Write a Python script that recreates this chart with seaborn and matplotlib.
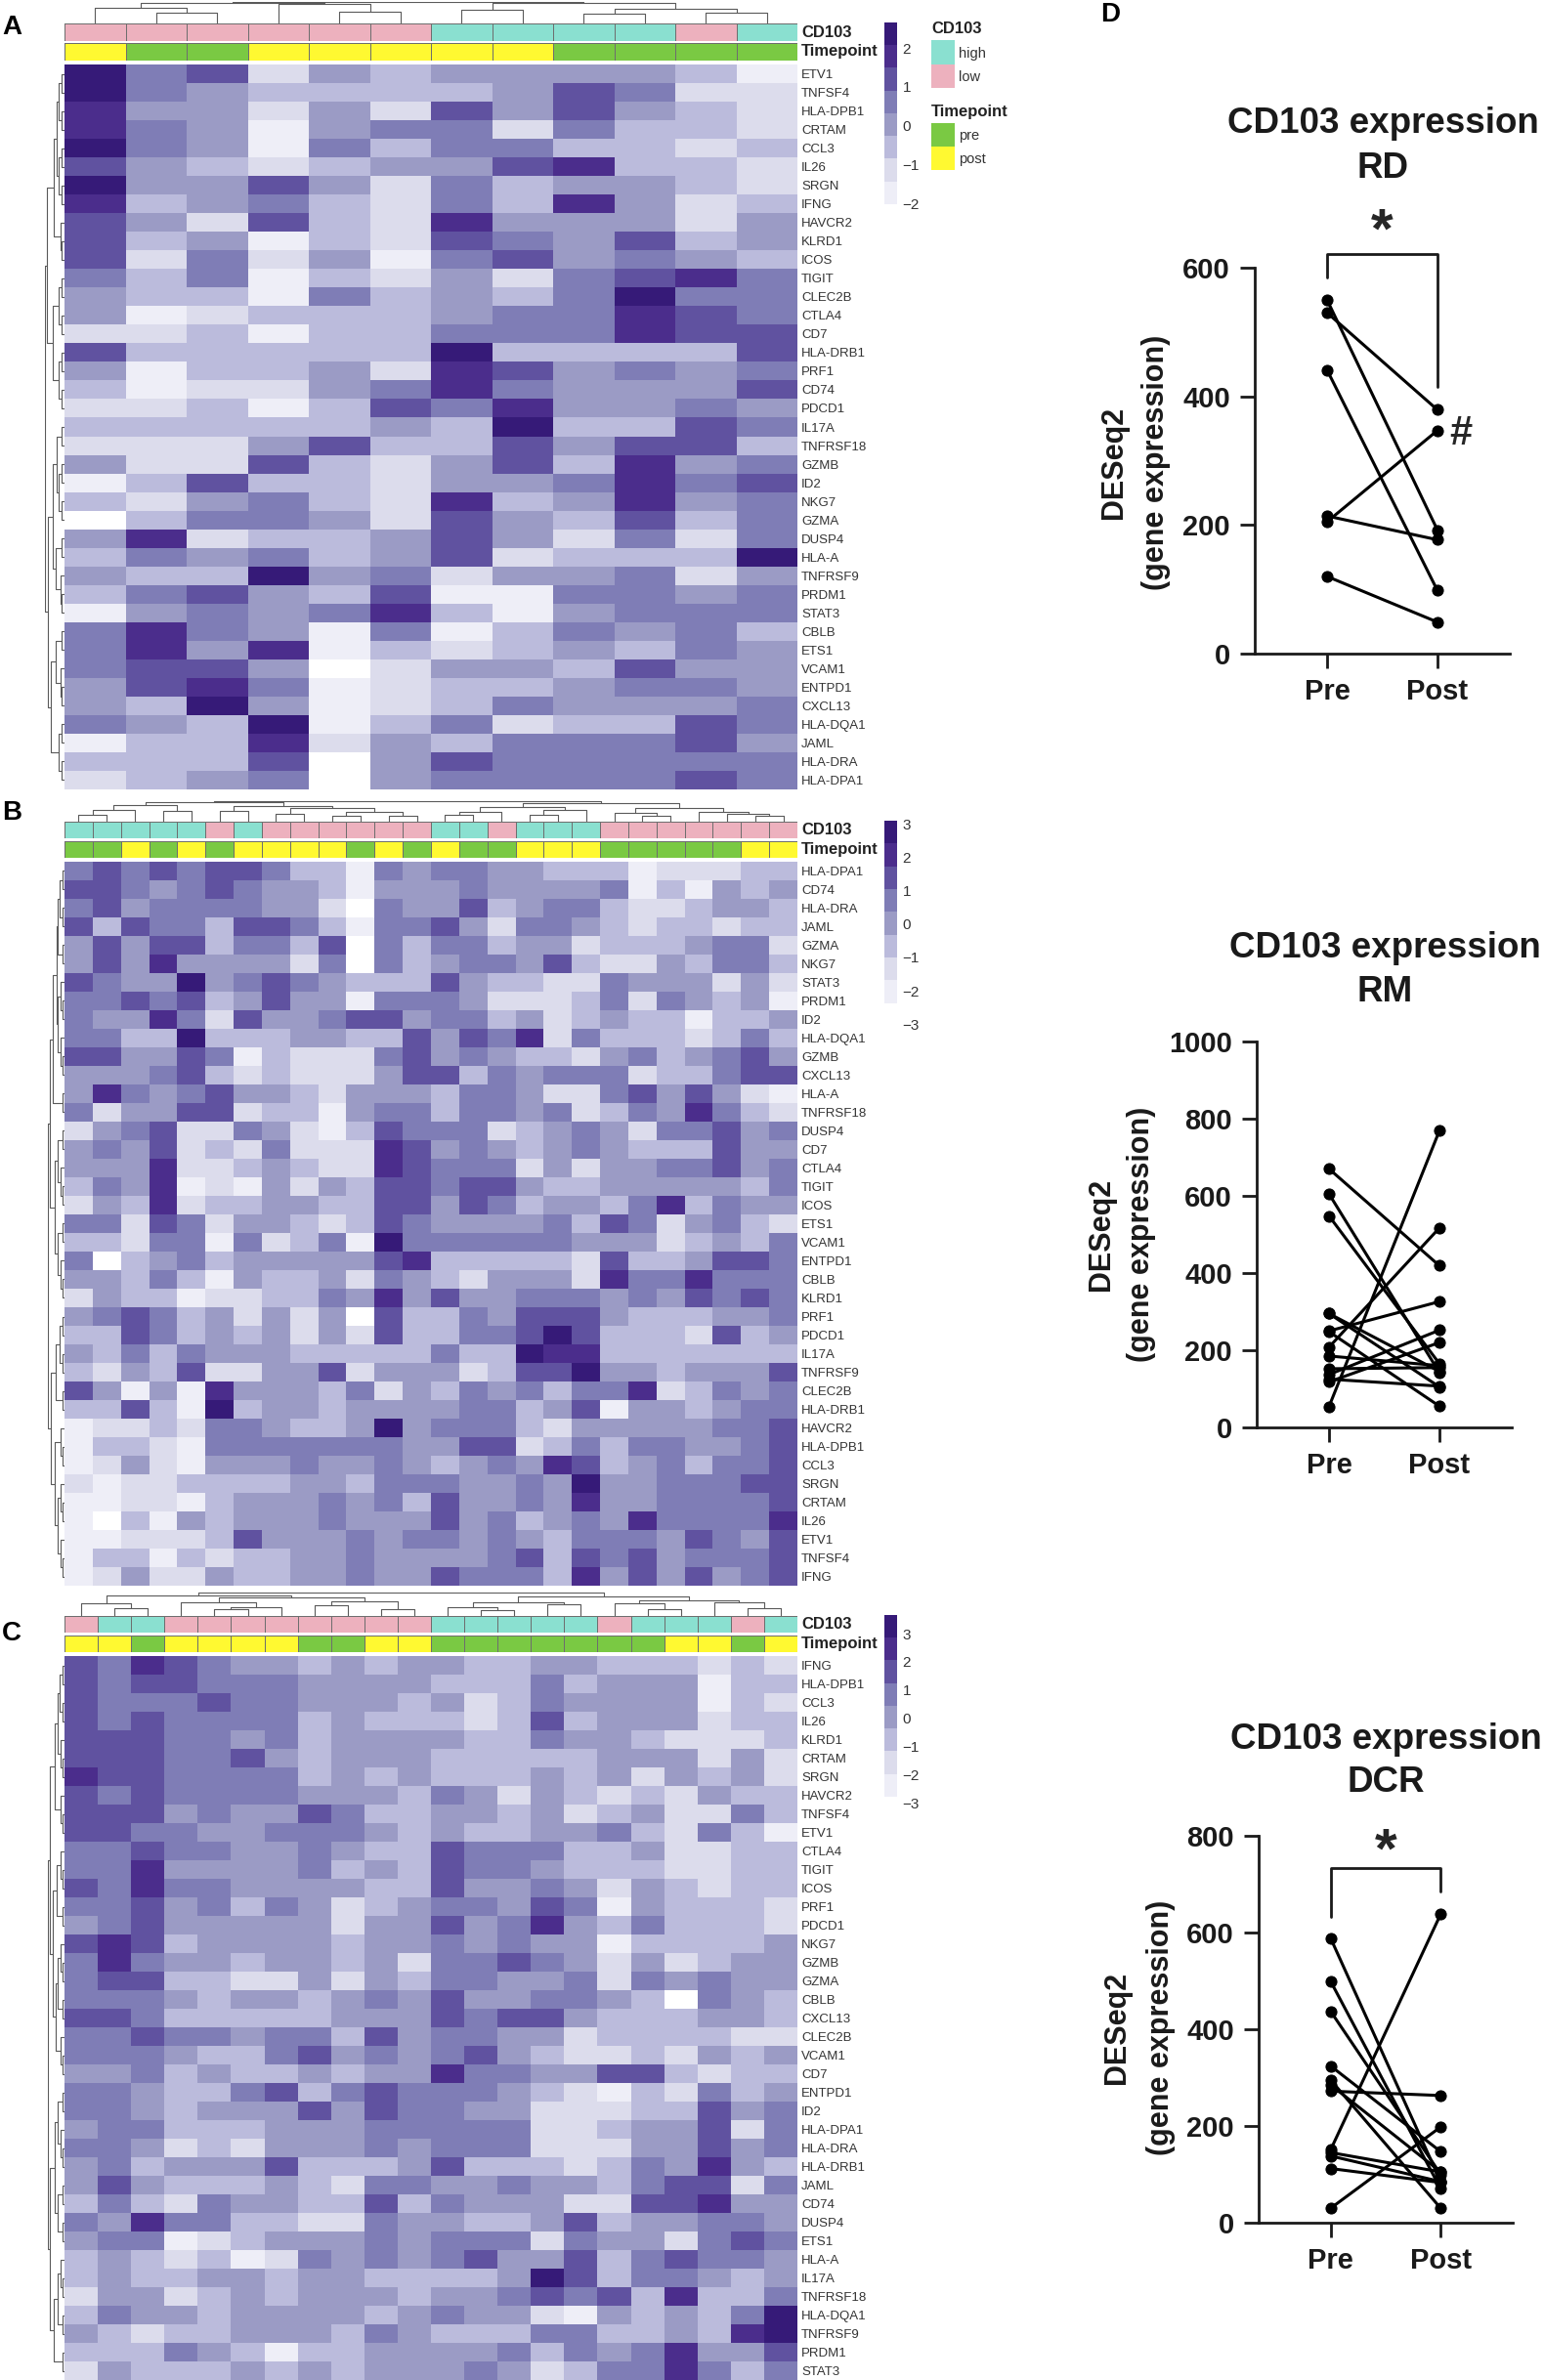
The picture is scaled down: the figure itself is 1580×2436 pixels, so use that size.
#!/usr/bin/env python3
import numpy as np
import pandas as pd
import matplotlib
matplotlib.use("Agg")
import matplotlib.pyplot as plt
from matplotlib.colors import ListedColormap
import seaborn as sns

sns.set_theme(style="white")
plt.rcParams['font.family'] = ['Liberation Sans', 'DejaVu Sans']

W, H = 1580, 2436

# heat colours, one digit in the rows below = one colour step
heat_colors = ['#FFFFFF', '#EEEEF7', '#DCDCEC', '#BBBBDC', '#9B9BC5',
               '#7F7DB6', '#6052A0', '#4B2D8C', '#361A78']
cd103_colors = ['#8AE0D0', '#EDB1BE']
time_colors = ['#7AC943', '#FFF931']

# Panel A
genes_a = ['ETV1', 'TNFSF4', 'HLA-DPB1', 'CRTAM', 'CCL3', 'IL26', 'SRGN', 'IFNG', 'HAVCR2', 'KLRD1',
           'ICOS', 'TIGIT', 'CLEC2B', 'CTLA4', 'CD7', 'HLA-DRB1', 'PRF1', 'CD74', 'PDCD1', 'IL17A',
           'TNFRSF18', 'GZMB', 'ID2', 'NKG7', 'GZMA', 'DUSP4', 'HLA-A', 'TNFRSF9', 'PRDM1', 'STAT3',
           'CBLB', 'ETS1', 'VCAM1', 'ENTPD1', 'CXCL13', 'HLA-DQA1', 'JAML', 'HLA-DRA', 'HLA-DPA1']
rows_a = ["856243444431", "854333346522", "744242646432", "754145525332", "854153553323",
          "643234467332", "844642534432", "734532537423", "642632744424", "634132654634",
          "625241564543", "535132425675", "433153435855", "412333455765", "223133555766",
          "633333833336", "413342764545", "312245754446", "223136574454", "333334383365",
          "222463364663", "422632463745", "136332445756", "324532734745", "035542643635",
          "472334642525", "354534623338", "433845244524", "356436115545", "145457314555",
          "575415135453", "574713234354", "566402443644", "467512334554", "438412354445",
          "543813523365", "133724355564", "333604655555", "234504555565"]
cd103_a = "LLLLLLHHHHLH"
time_a = "YGGYYYYYGGGG"

# Panel B
genes_b = ['HLA-DPA1', 'CD74', 'HLA-DRA', 'JAML', 'GZMA', 'NKG7', 'STAT3', 'PRDM1', 'ID2', 'HLA-DQA1',
           'GZMB', 'CXCL13', 'HLA-A', 'TNFRSF18', 'DUSP4', 'CD7', 'CTLA4', 'TIGIT', 'ICOS', 'ETS1',
           'VCAM1', 'ENTPD1', 'CBLB', 'KLRD1', 'PRF1', 'PDCD1', 'IL17A', 'TNFRSF9', 'CLEC2B', 'HLA-DRB1',
           'HAVCR2', 'HLA-DPB1', 'CCL3', 'SRGN', 'CRTAM', 'IL26', 'ETV1', 'TNFSF4', 'IFNG']
rows_b = ["56565665331545544333122233", "66545654431444544445131434", "56455554420544634553223443",
          "63655366531556425543233233", "46466355360535534423334552", "46474444250534554632243553",
          "65448456543336433225444242", "55656346441555422235254341", "54475264456645534234331334",
          "55338333443364657253332353", "66446513222564543324534564", "44456323222466354555233566",
          "47545644324443554225646421", "52446623314553554523547532", "24562254213655523454255645",
          "45462325222764543454333644", "44472234322765552424455645", "35471214243665664334444435",
          "24372334433664653443573544", "55265244323654444536524532", "33255152351855555544423435",
          "50345344444673333326334665", "44353143342543244427557555", "24331223354746445554546565",
          "45653424240633546664333445", "33653434242633556863332634", "43535444333335338773333333",
          "32436224462444236684434446", "64141744435243545355723545", "33631834434444553461443455",
          "12232554334845553244444556", "13321555555544662353554456", "12421444544543454763453556",
          "21223333443555445484455566", "11221344454536445474455556", "10314344454446453454755557",
          "11222364445455454355546546", "13313233445444456365645556", "12422433445446555374646456"]
cd103_b = "HHHHHLHLLLLLLHHLHHHLLLLLLL"
time_b = "GGYGYGYYYYGYGYGGYYYGGGGGYY"

# Panel C
genes_c = ['IFNG', 'HLA-DPB1', 'CCL3', 'IL26', 'KLRD1', 'CRTAM', 'SRGN', 'HAVCR2', 'TNFSF4', 'ETV1',
           'CTLA4', 'TIGIT', 'ICOS', 'PRF1', 'PDCD1', 'NKG7', 'GZMB', 'GZMA', 'CBLB', 'CXCL13',
           'CLEC2B', 'VCAM1', 'CD7', 'ENTPD1', 'ID2', 'HLA-DPA1', 'HLA-DRA', 'HLA-DRB1', 'JAML', 'CD74',
           'DUSP4', 'ETS1', 'HLA-A', 'IL17A', 'TNFRSF18', 'HLA-DQA1', 'TNFRSF9', 'PRDM1', 'STAT3']
rows_c = ["6576544343443344333232", "6566555444433353444133", "6555655444342354444132",
          "6565555343332363444233", "6665545344443354432223", "6665564344433333444242",
          "7665555343433343424342", "6565555444354243232433", "6664544653344342342253",
          "6655445554343344532531", "5565544543365553342233", "5574444534365543332233",
          "6575544443364454243233", "5564535423455465143332", "4564444424464574353332",
          "6763444434454544133334", "5754434434255654242344", "5663322424355445254544",
          "5554344345464455430543", "6653333344465664333443", "5565545536455442333322",
          "5554335645456432232434", "4453433434475544663233", "5543356356555432132534",
          "5543444646554422233645", "4553334445555522344625", "5542324445455522244645",
          "4534446333463332354743", "4643334325544544356625", "3532544336354442266744",
          "5475533225443346344554", "4551234445455525442565", "3432312545456446356554",
          "3433443443333486355434", "2442343444344565637335", "3544344443454421434358",
          "4323344435433355334378", "3335431334444535457446", "2433343434445423557535"]
cd103_c = "LHHLLLLLLLLHHHHHLHHHLH"
time_c = "YYGYYYYGGYYGGGGGGGYYGY"

# colour bar ranges and ticks
range_a, ticks_a = (-2.6, 2.66), [-2, -1, 0, 1, 2]
range_b, ticks_b = (-3.05, 3.09), [-3, -2, -1, 0, 1, 2, 3]
range_c, ticks_c = (-3.58, 3.66), [-3, -2, -1, 0, 1, 2, 3]

# dendrograms as nested (height, left, right), 0 is a leaf
col_tree_a = (1.0, (.98, (.76, 0, (.5, 0, 0)), (.91, 0, (.56, 0, 0))),
              (.97, (.64, 0, 0), (.7, (.48, 0, 0), (.5, 0, 0))))
col_tree_b = (1.0, (.95, (.85, (.6, (.35, 0, 0), 0), (.55, 0, 0)),
                    (.8, (.55, 0, 0), (.7, (.4, 0, 0), (.5, (.3, 0, 0), (.3, 0, 0))))),
              (.9, (.75, (.5, (.35, 0, 0), 0), (.6, (.35, 0, 0), 0)),
               (.7, (.45, 0, (.3, 0, 0)), (.5, 0, (.4, 0, (.3, 0, 0))))))
col_tree_c = (1.0, (.9, (.55, 0, (.35, 0, 0)),
                    (.8, (.6, 0, (.4, (.3, 0, 0), 0)), (.65, (.45, 0, 0), (.3, 0, 0)))),
              (.85, (.6, (.4, 0, (.25, 0, 0)), (.5, 0, 0)), (.7, (.55, 0, (.3, 0, 0)), (.6, 0, (.35, 0, 0)))))

t2 = (.14, 0, 0)
t3 = (.22, 0, t2)
t4 = (.3, t2, t2)
row_tree_a = (1.0, (.9, (.55, (.42, t4, t4), t3), (.6, t4, t4)),
              (.85, (.62, (.4, t2, t4), (.45, t2, t3)), (.7, (.45, t2, t3), t4)))
row_tree_b = (1.0, (.92, (.7, (.5, (.4, t4, t2), (.4, t3, t3)), t2),
                    (.6, (.42, t2, t3), (.45, t2, t3))),
              (.85, (.55, t4, t2), (.6, t3, (.45, t3, t3))))
row_tree_c = (1.0, (.92, (.62, (.45, t4, t3), t3), (.7, (.5, t3, t2), (.55, (.4, t3, t2), t3))),
              (.88, (.6, (.4, t2, t3), (.45, t2, t2)), (.66, (.45, t3, t2), t2)))

# Panel D
pair_x = ['Pre', 'Post']
rd_pre = [530, 550, 441, 205, 214, 120]
rd_post = [379, 192, 98, 347, 177, 49]
rm_pre = [670, 605, 548, 295, 295, 250, 248, 208, 185, 152, 137, 125, 118, 54]
rm_post = [419, 142, 165, 145, 105, 326, 55, 517, 160, 155, 252, 107, 220, 769]
dcr_pre = [588, 499, 437, 324, 295, 285, 272, 151, 145, 138, 112, 30]
dcr_post = [85, 70, 100, 147, 30, 105, 263, 638, 105, 85, 83, 198]


fig = plt.figure(figsize=(W / 100, H / 100), dpi=100)


def px_axes(x0, y0, x1, y1):
    return fig.add_axes([x0 / W, 1 - y1 / H, (x1 - x0) / W, (y1 - y0) / H])


def px_text(x, y, s, **kw):
    kw.setdefault('va', 'center')
    fig.text(x / W, 1 - y / H, s, **kw)


def draw_tree(ax, node, pos, vertical):
    # returns position and height of the node, pos is the next free leaf
    if node == 0:
        pos[0] += 1
        return pos[0] - .5, 0
    h, left, right = node
    p1, h1 = draw_tree(ax, left, pos, vertical)
    p2, h2 = draw_tree(ax, right, pos, vertical)
    xs, ys = [p1, p1, p2, p2], [h1, h, h, h2]
    if vertical:
        ax.plot(xs, ys, color='#5a5a5a', lw=.8)
    else:
        ax.plot(ys, xs, color='#5a5a5a', lw=.8)
    return (p1 + p2) / 2, h


def heat_panel(box, genes, rows, cd103, time, vrange, ticks, cbar_box, col_tree, row_tree, col_box, row_x, ann):
    x0, y0, x1, y1 = box
    levels = np.array([[int(c) for c in r] for r in rows])
    vmin, vmax = vrange
    step = (vmax - vmin) / len(heat_colors)
    df = pd.DataFrame(vmin + (levels + .5) * step, index=genes)

    ax = px_axes(x0, y0, x1, y1)
    cax = px_axes(*cbar_box)
    sns.heatmap(df, ax=ax, cmap=ListedColormap(heat_colors), vmin=vmin, vmax=vmax, cbar_ax=cax,
                xticklabels=False, yticklabels=True, cbar_kws={'ticks': ticks})
    ax.tick_params(left=False, right=False, labelleft=False, labelright=True, labelsize=9.5, pad=3, length=0,
                   labelrotation=0, labelcolor='#333333')
    ax.set_ylabel('')
    cax.tick_params(length=0, labelsize=11, pad=4, labelcolor='#333333')
    ax.collections[0].colorbar.outline.set_visible(False)

    # annotation strips
    for (ya, yb), text, codes, cols, keys in [
            (ann[0], 'CD103', cd103, cd103_colors, 'HL'),
            (ann[1], 'Timepoint', time, time_colors, 'GY')]:
        strip = px_axes(x0, ya, x1, yb)
        vals = np.array([[keys.index(c) for c in codes]])
        sns.heatmap(vals, ax=strip, cmap=ListedColormap(cols), vmin=0, vmax=1, cbar=False,
                    xticklabels=False, yticklabels=False, linewidths=.7, linecolor='#6e6e6e')
        px_text(x1 + 4, (ya + yb) / 2, text, fontsize=12, fontweight='bold', color='#222222')

    # dendrograms
    top = px_axes(*col_box)
    draw_tree(top, col_tree, [0], True)
    top.set_xlim(0, levels.shape[1])
    top.set_ylim(0, 1.02)
    top.axis('off')
    side = px_axes(row_x, y0, x0, y1)
    draw_tree(side, row_tree, [0], False)
    side.set_ylim(levels.shape[0], 0)
    side.set_xlim(1.02, 0)
    side.axis('off')


heat_panel((66, 66, 816, 808), genes_a, rows_a, cd103_a, time_a, range_a, ticks_a, (905, 23, 918, 232),
           col_tree_a, row_tree_a, (66, 2, 816, 24), 46, ((24, 42), (44, 62)))
heat_panel((66, 882, 816, 1623), genes_b, rows_b, cd103_b, time_b, range_b, ticks_b, (905, 840, 918, 1050),
           col_tree_b, row_tree_b, (66, 820, 816, 841), 49, ((841, 858), (861, 878)))
heat_panel((66, 1695, 816, 2436), genes_c, rows_c, cd103_c, time_c, range_c, ticks_c, (905, 1653, 918, 1862),
           col_tree_c, row_tree_c, (66, 1630, 816, 1654), 49, ((1654, 1671), (1674, 1691)))

# legend of panel A
for (ya, yb), title, names, cols in [((41, 90), 'CD103', ['high', 'low'], cd103_colors),
                                     ((126, 174), 'Timepoint', ['pre', 'post'], time_colors)]:
    leg = px_axes(953, ya, 977, yb)
    sns.heatmap(np.array([[0], [1]]), ax=leg, cmap=ListedColormap(cols), cbar=False, xticklabels=False,
                yticklabels=names)
    leg.tick_params(left=False, right=False, labelleft=False, labelright=True, labelsize=10.5, pad=3, length=0,
                    labelrotation=0, labelcolor='#333333')
    px_text(953, ya - 11, title, fontsize=12, fontweight='bold', color='#222222')


def pair_panel(box, pre, post, ymax, yticks, title, title_x, title_y, lab_x, lab_y, bracket=None, star=None):
    df = pd.DataFrame({'patient': list(range(len(pre))) * 2,
                       'time': [0] * len(pre) + [1] * len(post),
                       'value': pre + post})
    ax = px_axes(*box)
    sns.lineplot(data=df, x='time', y='value', units='patient', estimator=None, ax=ax, color='black',
                 marker='o', markersize=8, markeredgecolor='black', linewidth=2.2, clip_on=False)
    ax.set_xlim(-.655, 1.655)
    ax.set_ylim(0, ymax)
    ax.set_xticks([0, 1], pair_x)
    ax.set_yticks(yticks)
    ax.set_xlabel('')
    ax.set_ylabel('')
    sns.despine(ax=ax)
    for s in ['left', 'bottom']:
        ax.spines[s].set_linewidth(2)
        ax.spines[s].set_color('#1a1a1a')
    ax.tick_params(axis='both', length=11, width=2, labelsize=21, pad=7, bottom=True, left=True, color='#1a1a1a')
    for t in ax.get_xticklabels() + ax.get_yticklabels():
        t.set_fontweight('bold')
        t.set_color('#1a1a1a')
    if bracket:
        top, left_end, right_end = bracket
        ax.plot([0, 0, 1, 1], [left_end, top, top, right_end], color='#1a1a1a', lw=2, clip_on=False)
    if star:
        ax.text(.5, star, '*', ha='center', va='center', fontsize=42, fontweight='bold', clip_on=False)
    px_text(title_x, title_y[0], 'CD103 expression', ha='center', fontsize=26.5, fontweight='bold', color='#1a1a1a')
    px_text(title_x, title_y[1], title, ha='center', fontsize=26.5, fontweight='bold', color='#1a1a1a')
    px_text(lab_x[0], lab_y, 'DESeq2', rotation=90, ha='center', fontsize=22, fontweight='bold', color='#1a1a1a')
    px_text(lab_x[1], lab_y, '(gene expression)', rotation=90, ha='center', fontsize=22, fontweight='bold',
            color='#1a1a1a')
    return ax


ax_rd = pair_panel((1284, 274, 1545, 669), rd_pre, rd_post, 600, [0, 200, 400, 600], 'RD', 1415, (126, 173),
                   (1140, 1183), 473, bracket=(622, 585, 415), star=654)
ax_rd.text(1.21, 342, '#', ha='center', va='center', fontsize=30, fontweight='bold')
pair_panel((1286, 1066, 1547, 1461), rm_pre, rm_post, 1000, [0, 200, 400, 600, 800, 1000], 'RM', 1417, (971, 1015),
           (1127, 1168), 1263)
pair_panel((1288, 1879, 1548, 2275), dcr_pre, dcr_post, 800, [0, 200, 400, 600, 800], 'DCR', 1418, (1780, 1825),
           (1143, 1188), 2075, bracket=(734, 632, 685), star=764)

# panel letters
for x, y, s in [(12, 28, 'A'), (12, 832, 'B'), (12, 1672, 'C'), (1136, 15, 'D')]:
    px_text(x, y, s, ha='center', fontsize=20, fontweight='bold', color='black')

fig.savefig('out.png', dpi=100)
